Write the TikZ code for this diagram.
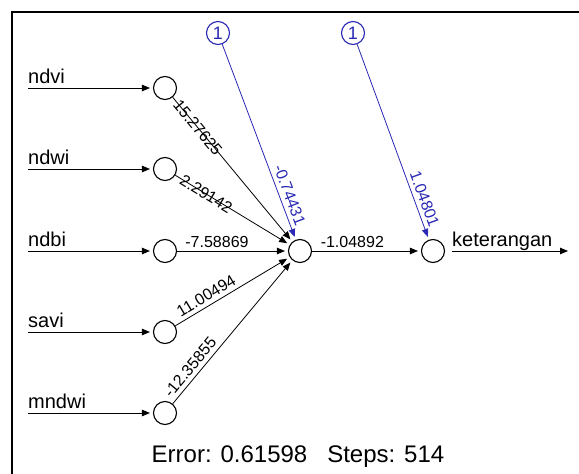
\documentclass[tikz,border=0pt]{standalone}
\usepackage{fontspec}
\setmainfont{Liberation Sans}
\usetikzlibrary{arrows.meta}
\definecolor{biasblue}{RGB}{40,40,180}
\begin{document}
\begin{tikzpicture}[x=1pt,y=-1pt,
  neuron/.style={circle,draw,line width=1.1pt,minimum size=23pt,inner sep=0pt},
  biasnode/.style={neuron,draw=biasblue,text=biasblue,font=\fontsize{18}{18}\selectfont},
  synapse/.style={draw,line width=0.8pt,-{Triangle[length=8pt,width=6.5pt]},shorten >=3pt},
  biassyn/.style={synapse,draw=biasblue,color=biasblue},
  wlabel/.style={font=\fontsize{16}{16}\selectfont,sloped,inner sep=1pt},
  inlabel/.style={font=\fontsize{20}{20}\selectfont,anchor=base west,inner sep=0pt},
]
\clip (0,0) rectangle (579,474);
% frame
\draw[line width=1.8pt] (12,490) -- (12,12) -- (600,12);

% neurons
\node[neuron] (i1) at (165,88) {};
\node[neuron] (i2) at (165,169) {};
\node[neuron] (i3) at (165,251) {};
\node[neuron] (i4) at (165,332) {};
\node[neuron] (i5) at (165,413) {};
\node[neuron] (h) at (300,251) {};
\node[neuron] (o) at (433,251) {};
\node[biasnode] (b1) at (218,33) {1};
\node[biasnode] (b2) at (353,33) {1};

% input variables
\coordinate (s1) at (28,88);
\coordinate (s2) at (28,169);
\coordinate (s3) at (28,251);
\coordinate (s4) at (28,332);
\coordinate (s5) at (28,413);
\node[inlabel] (l1) at (28,83) {ndvi};
\node[inlabel] (l2) at (28,164) {ndwi};
\node[inlabel] (l3) at (28,246) {ndbi};
\node[inlabel] (l4) at (28,327) {savi};
\node[inlabel] (l5) at (28,408) {mndwi};
\draw[synapse] (s1) -- (i1);
\draw[synapse] (s2) -- (i2);
\draw[synapse] (s3) -- (i3);
\draw[synapse] (s4) -- (i4);
\draw[synapse] (s5) -- (i5);

% output variable
\coordinate (oe) at (568,251);
\node[inlabel] (lo) at (452,246) {keterangan};
\draw[synapse,shorten >=0pt,shorten <=7pt] (o) -- (oe);

% weighted synapses
\draw[synapse] (i1) -- node[wlabel,pos=0.21] {15.27625} (h);
\draw[synapse] (i2) -- node[wlabel,pos=0.27] {2.29142} (h);
\draw[synapse] (i3) -- node[wlabel,pos=0.36,above=2pt] {-7.58869} (h);
\draw[synapse] (i4) -- node[wlabel,pos=0.315,above=3pt] {11.00494} (h);
\draw[synapse] (i5) -- node[wlabel,pos=0.21,above=3pt] {-12.35855} (h);
\draw[synapse] (h) -- node[wlabel,pos=0.37,above=2pt] {-1.04892} (o);
\draw[biassyn] (b1) -- node[wlabel,pos=0.79,above=3pt] {-0.74431} (h);
\draw[biassyn] (b2) -- node[wlabel,pos=0.81,above=3pt] {1.04801} (o);

% training summary
\node[font=\fontsize{24}{24}\selectfont,anchor=base,inner sep=0pt] (err) at (298,462) {Error: 0.61598\ \ \ Steps: 514};
\end{tikzpicture}
\end{document}
